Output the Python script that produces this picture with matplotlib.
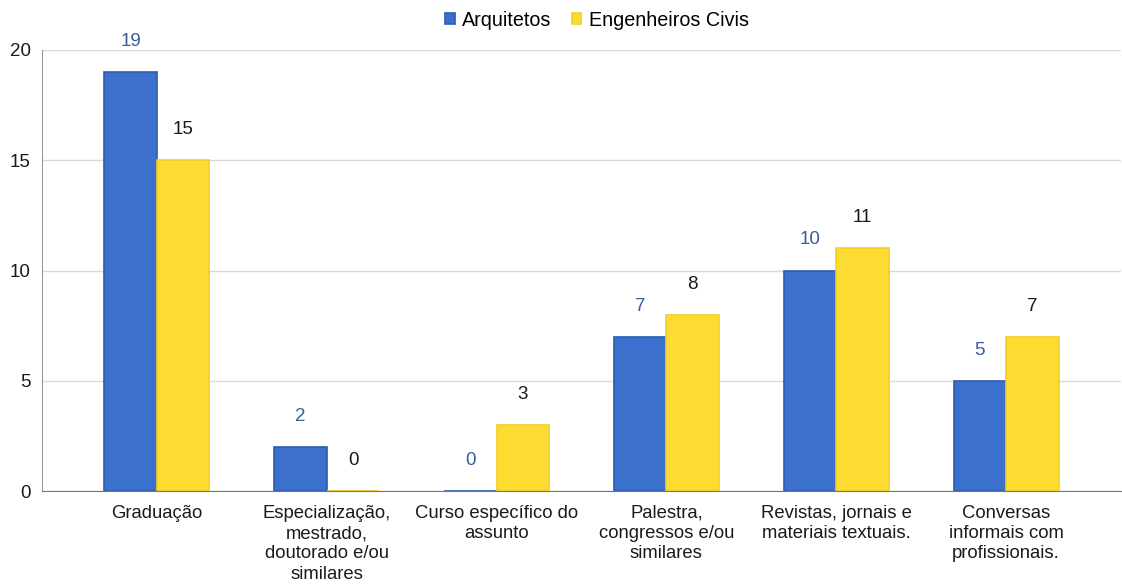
import numpy as np
import matplotlib
matplotlib.use('Agg')
import matplotlib.pyplot as plt

plt.rcParams['font.family'] = ['Liberation Sans', 'DejaVu Sans']

categories = ['Graduação',
              'Especialização,\nmestrado,\ndoutorado e/ou\nsimilares',
              'Curso específico do\nassunto',
              'Palestra,\ncongressos e/ou\nsimilares',
              'Revistas, jornais e\nmateriais textuais.',
              'Conversas\ninformais com\nprofissionais.']
arquitetos = [19, 2, 0, 7, 10, 5]
engenheiros = [15, 0, 3, 8, 11, 7]
series_names = ['Arquitetos', 'Engenheiros Civis']

BLUE, BLUE_EDGE = '#3c70cd', '#2a5cb3'
YELLOW, YELLOW_EDGE = '#fddb31', '#f2cf25'

fig = plt.figure(figsize=(11.22, 5.86), dpi=100)
ax = fig.add_axes([42/1122, 95/586, 1079/1122, 441/586])

x = np.arange(len(categories))
w = 0.31
b1 = ax.bar(x - w/2, arquitetos, w, color=BLUE, edgecolor=BLUE_EDGE, lw=1.2, label=series_names[0], zorder=3)
b2 = ax.bar(x + w/2, engenheiros, w, color=YELLOW, edgecolor=YELLOW_EDGE, lw=1.2, label=series_names[1], zorder=3)

for bars, vals, c in [(b1, arquitetos, '#3b5b9b'), (b2, engenheiros, '#1a1a1a')]:
    for r, v in zip(bars, vals):
        ax.annotate(str(v), (r.get_x() + r.get_width()/2, v), xytext=(0, 22),
                    textcoords='offset pixels', ha='center', va='bottom',
                    fontsize=13.5, color=c)

ax.set_xlim(-0.676, 5.676)
ax.set_ylim(0, 20)
ax.set_yticks([0, 5, 10, 15, 20])
ax.yaxis.grid(True, color='#d9d9d9', lw=1, zorder=0)
ax.set_xticks(x, categories, fontsize=13.3, linespacing=1.25, color='#1a1a1a')
ax.tick_params(axis='y', labelsize=13.5, length=0, pad=8, labelcolor='#1a1a1a')
ax.tick_params(axis='x', length=0, pad=10)
for s in ['top', 'right']:
    ax.spines[s].set_visible(False)
ax.spines['left'].set_color('#999999')
ax.spines['bottom'].set_color('#777777')
ax.spines['bottom'].set_zorder(4)

fig.legend(handles=[b1, b2], loc='center', bbox_to_anchor=(597/1122, 1 - 20/586),
           ncol=2, frameon=False, fontsize=14.2, handlelength=0.5, handleheight=0.5,
           handletextpad=0.4, columnspacing=1.0)

plt.savefig('out.png', dpi=100)
